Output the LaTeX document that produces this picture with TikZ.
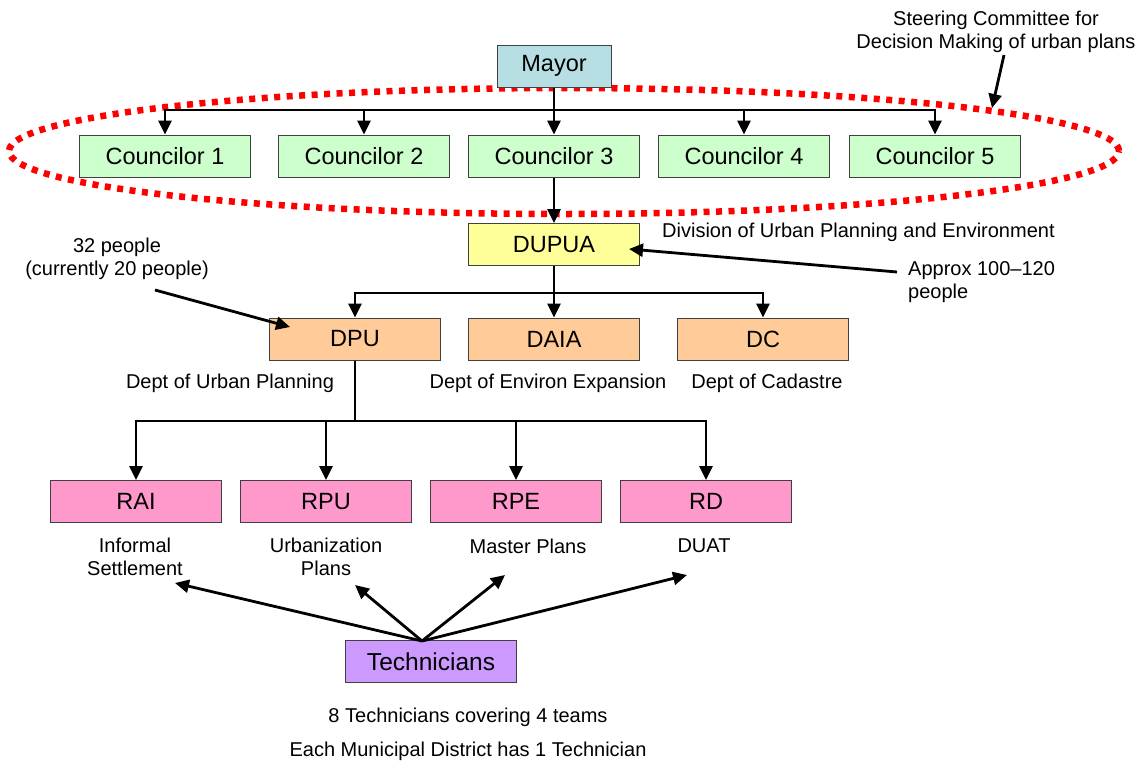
\documentclass[tikz,border=0pt]{standalone}
\usepackage{fontspec}
\setmainfont{Liberation Sans}
\usetikzlibrary{arrows.meta}
\definecolor{mayorc}{HTML}{B7DEE3}
\definecolor{councc}{HTML}{CCFFCC}
\definecolor{divc}{HTML}{FFFF99}
\definecolor{deptc}{HTML}{FFCC99}
\definecolor{secc}{HTML}{FF99CC}
\definecolor{techc}{HTML}{CC99FF}
\begin{document}
\begin{tikzpicture}[x=1pt,y=-1pt,
  box/.style={draw=black!75, line width=1pt, minimum width=171pt, minimum height=42pt, inner sep=0pt, font=\fontsize{23.5}{27}\selectfont},
  conn/.style={line width=2.8pt, -{Triangle[length=14pt,width=13pt]}},
  lbl/.style={font=\fontsize{20}{23.5}\selectfont, align=center, inner sep=0pt},
  dots/.style={draw=red, line width=6.5pt, dash pattern=on 6pt off 6.5pt},
]
\useasboundingbox (0,0) rectangle (1138,763);

% steering committee ellipse
\draw[dots] (564,151) ellipse [x radius=555pt, y radius=63pt];

% nodes
\node[box, fill=mayorc, minimum width=114pt] (mayor) at (554,66) {Mayor};
\node[box, fill=councc] (c1) at (165,156) {Councilor 1};
\node[box, fill=councc] (c2) at (364,156) {Councilor 2};
\node[box, fill=councc] (c3) at (554,156) {Councilor 3};
\node[box, fill=councc] (c4) at (744,156) {Councilor 4};
\node[box, fill=councc] (c5) at (935,156) {Councilor 5};
\node[box, fill=divc] (dupua) at (554,244.5) {DUPUA};
\node[box, fill=deptc] (dpu) at (355,339) {DPU};
\node[box, fill=deptc] (daia) at (554,339) {DAIA};
\node[box, fill=deptc] (dc) at (763,339) {DC};
\node[box, fill=secc] (rai) at (136,501.5) {RAI};
\node[box, fill=secc] (rpu) at (326,501.5) {RPU};
\node[box, fill=secc] (rpe) at (516,501.5) {RPE};
\node[box, fill=secc] (rd) at (706,501.5) {RD};
\node[box, fill=techc, font=\fontsize{24.5}{27}\selectfont] (tech) at (431,661.5) {Technicians};

% labels
\node[lbl] (steer) at (996,32) {Steering Committee for\\Decision Making of urban plans};
\node[lbl, anchor=west] (divl) at (662,232) {Division of Urban Planning and Environment};
\node[lbl, anchor=west, align=left] (approx) at (908,282) {Approx 100--120\\people};
\node[lbl] (people) at (117,259) {32 people\\(currently 20 people)};
\node[lbl] (dpul) at (230,383) {Dept of Urban Planning};
\node[lbl] (daial) at (548,383) {Dept of Environ Expansion};
\node[lbl] (dcl) at (767,383) {Dept of Cadastre};
\node[lbl] (rail) at (135,557) {Informal\\Settlement};
\node[lbl] (rpul) at (326,557) {Urbanization\\Plans};
\node[lbl] (rpel) at (528,546) {Master Plans};
\node[lbl] (rdl) at (704,546) {DUAT};
\node[lbl] (t1) at (468,717) {8 Technicians covering 4 teams};
\node[lbl] (t2) at (468,751) {Each Municipal District has 1 Technician};

% free ends of annotation arrows
\coordinate (steerA) at (1004,55);
\coordinate (steerB) at (992,108);
\coordinate (apA) at (897,272);
\coordinate (apB) at (629,249);
\coordinate (ppA) at (155,290);
\coordinate (ppB) at (290,327);
\coordinate (tO) at (422,641);
\coordinate (tk1) at (175,583);
\coordinate (tk2) at (355,585);
\coordinate (tk3) at (505,575);
\coordinate (tk4) at (687,575);

% hierarchy connectors
\foreach \c in {c1,c2,c3,c4,c5}
  \draw[conn] (mayor.south) -- (554,110) -| (\c.north);
\draw[conn] (c3.south) -- (dupua.north);
\foreach \d in {dpu,daia,dc}
  \draw[conn] (dupua.south) -- (554,293) -| (\d.north);
\foreach \r in {rai,rpu,rpe,rd}
  \draw[conn] (dpu.south) -- (355,421) -| (\r.north);

% annotation arrows
\draw[conn] (steerA) -- (steerB);
\draw[conn] (apA) -- (apB);
\draw[conn] (ppA) -- (ppB);
\foreach \k in {tk1,tk2,tk3,tk4}
  \draw[conn] (tO) -- (\k);
\end{tikzpicture}
\end{document}
